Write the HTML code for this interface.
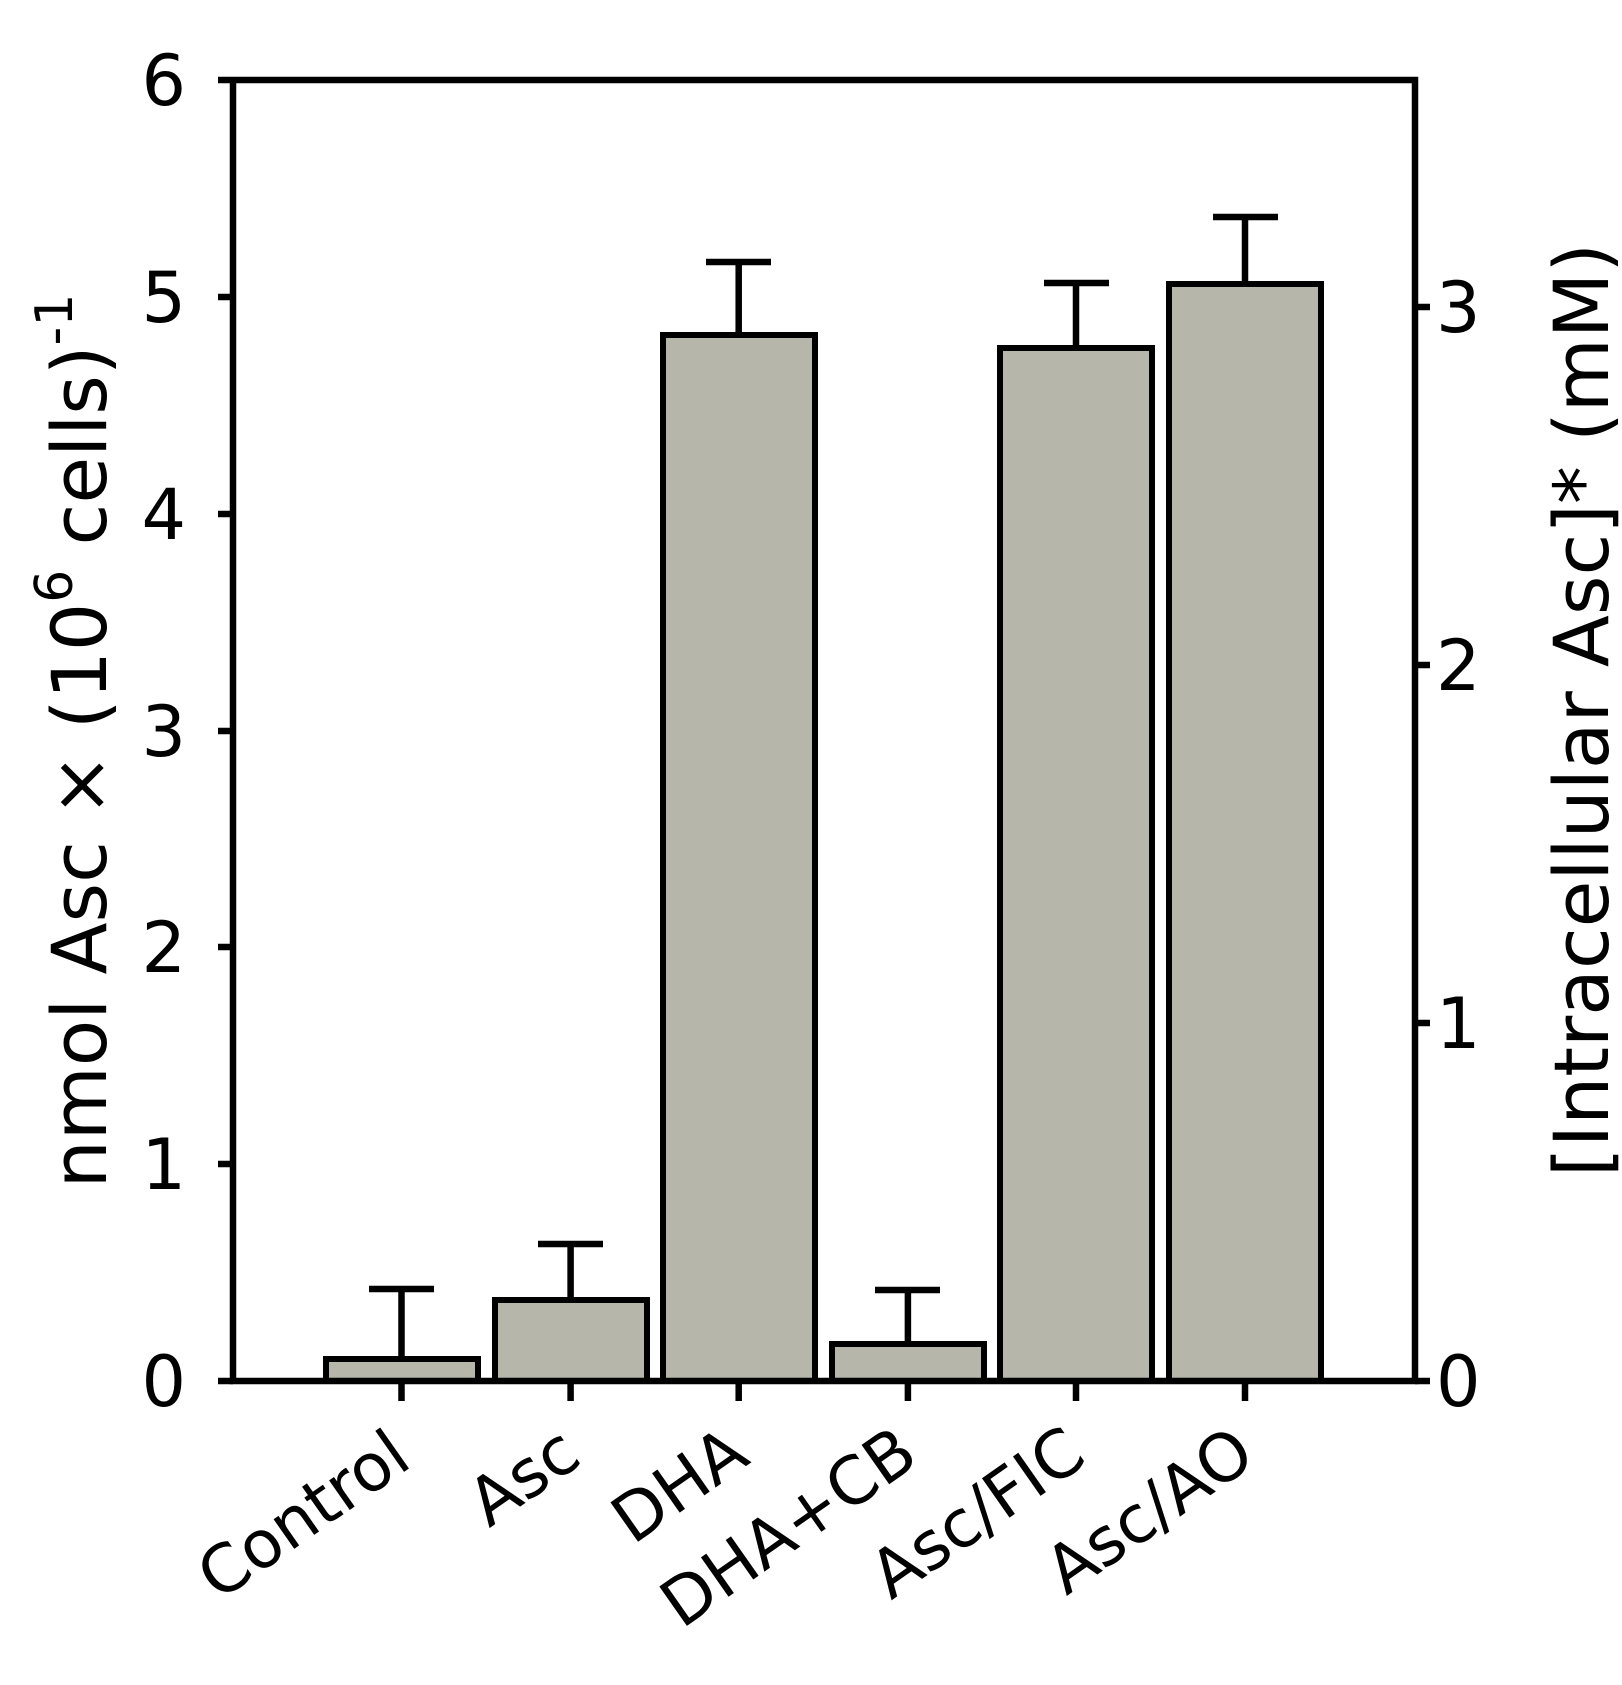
<!DOCTYPE html>
<html><head><meta charset="utf-8"><style>
body{margin:0;background:#fff;}
svg text{font-family:"DejaVu Sans","Liberation Sans",sans-serif;fill:#000;}
</style></head><body>
<svg width="1622" height="1680" viewBox="0 0 1622 1680" xmlns="http://www.w3.org/2000/svg">
<g stroke="#000" stroke-width="6" fill="#b6b6aa">
<rect x="326" y="1359" width="152" height="22"/>
<rect x="495" y="1300" width="152" height="81"/>
<rect x="663" y="335" width="152" height="1046"/>
<rect x="832" y="1344" width="152" height="37"/>
<rect x="1000" y="348" width="152" height="1033"/>
<rect x="1169" y="284" width="152" height="1097"/>
</g>
<g stroke="#000" stroke-width="6.5" fill="none">
<path d="M401.5 1359V1289M369 1289H434"/>
<path d="M570.6 1300V1244M538 1244H603"/>
<path d="M738.7 335V262M706 262H771"/>
<path d="M907.9 1344V1290M875 1290H940"/>
<path d="M1076 348V283M1044 283H1109"/>
<path d="M1245 284V217M1213 217H1278"/>
<path d="M233 80V1381H1415V80H233"/>
<path d="M218 1381H233M218 1164H233M218 947H233M218 731H233M218 514H233M218 297H233M218 80H233"/>
<path d="M1415 1381H1430M1415 1023H1430M1415 665H1430M1415 307H1430"/>
<path d="M401.5 1381V1401M570.6 1381V1401M738.7 1381V1401M907.9 1381V1401M1076 1381V1401M1245 1381V1401"/>
</g>
<g font-size="70" text-anchor="end">
<text x="186" y="1406">0</text>
<text x="186" y="1189">1</text>
<text x="186" y="972">2</text>
<text x="186" y="756">3</text>
<text x="186" y="539">4</text>
<text x="186" y="322">5</text>
<text x="186" y="105">6</text>
</g>
<g font-size="70">
<text x="1436" y="1406">0</text>
<text x="1436" y="1048">1</text>
<text x="1436" y="690">2</text>
<text x="1436" y="332">3</text>
</g>
<text font-size="76" text-anchor="middle" transform="translate(106,741) rotate(-90)">nmol Asc × (10<tspan font-size="52" dy="-34">6</tspan><tspan dy="34"> cells)</tspan><tspan font-size="52" dy="-34">-1</tspan></text>
<text font-size="76" text-anchor="middle" transform="translate(1608,710) rotate(-90)">[Intracellular Asc]* (mM)</text>
<g font-size="66" text-anchor="end">
<text transform="translate(414,1465) rotate(-35)">Control</text>
<text transform="translate(584,1462) rotate(-35)">Asc</text>
<text transform="translate(752,1462) rotate(-35)">DHA</text>
<text transform="translate(921,1462) rotate(-35)">DHA+CB</text>
<text transform="translate(1089,1462) rotate(-35)">Asc/FIC</text>
<text transform="translate(1258,1462) rotate(-35)">Asc/AO</text>
</g>
</svg>
</body></html>
